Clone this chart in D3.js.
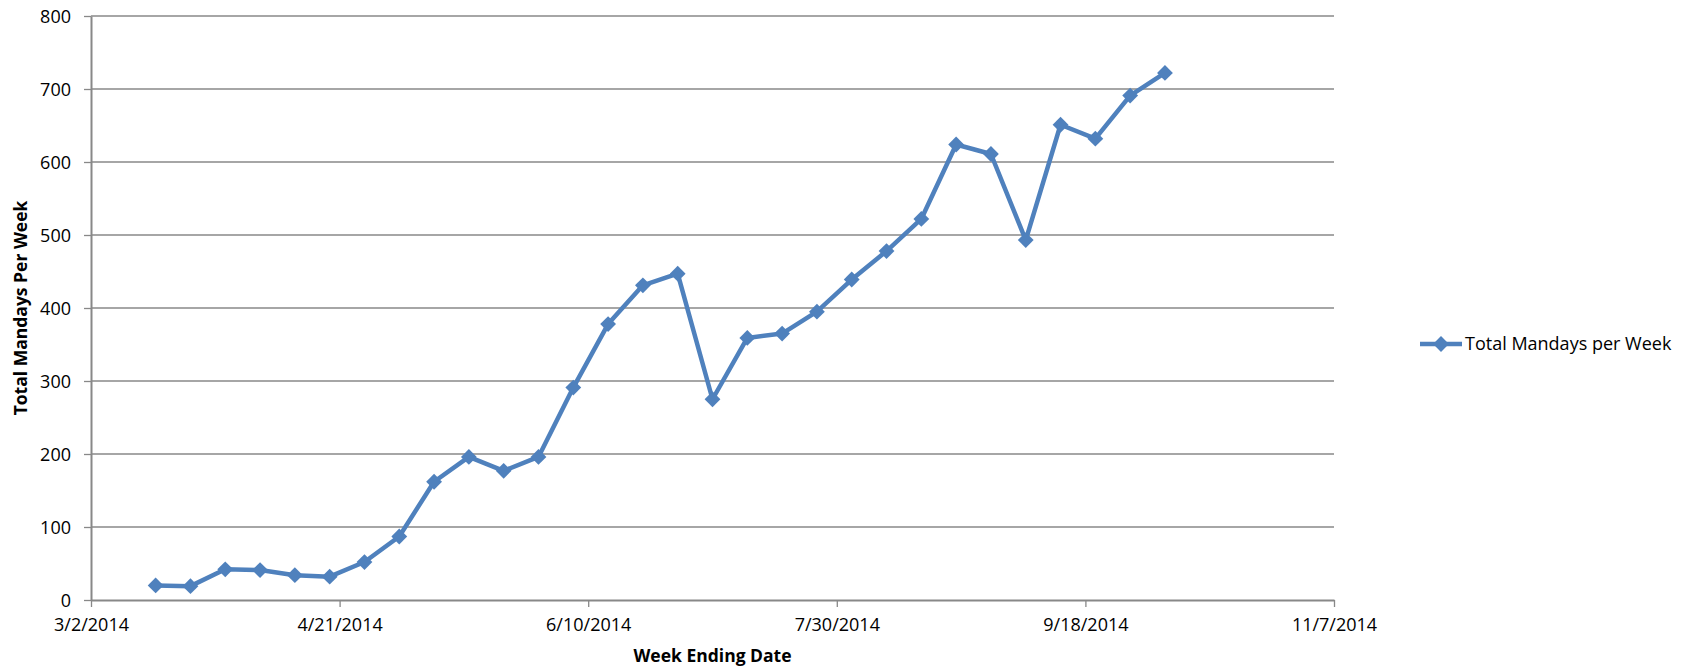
<!DOCTYPE html>
<html>
<head>
<meta charset="utf-8">
<script src="https://cdn.jsdelivr.net/npm/d3@7"></script>
<style>
  body { margin: 0; background: #fff; }
  svg { display: block; font-family: "Open Sans", sans-serif; }
</style>
</head>
<body>
<div class="content"></div>
<script>
(function() {

  // Data
  var firstWeek = "2014-03-15";
  var mandays = [20, 19, 42, 41, 34, 32, 52, 87, 162, 196, 177, 196, 291, 378, 431, 447,
                 275, 359, 365, 395, 439, 478, 522, 624, 611, 493, 651, 632, 691, 722];
  var xTickDates = ["2014-03-02", "2014-04-21", "2014-06-10", "2014-07-30", "2014-09-18", "2014-11-07"];
  var yTicks = [0, 100, 200, 300, 400, 500, 600, 700, 800];
  var seriesName = "Total Mandays per Week";

  // Design Variables
  var width = 1690;
  var height = 670;
  var margin = {top: 16, right: 356, bottom: 70, left: 91};
  var blue = "#4f81bd";
  var grey = "#888888";

  var parse = d3.timeParse("%Y-%m-%d");
  var start = parse(firstWeek);
  var data = mandays.map(function(v, i) {
    return {date: d3.timeDay.offset(start, i * 7), value: v};
  });
  var tickDates = xTickDates.map(parse);

  // Scales
  var x = d3.scaleTime()
    .domain([tickDates[0], tickDates[tickDates.length - 1]])
    .range([margin.left, width - margin.right]);

  var y = d3.scaleLinear()
    .domain([0, 800])
    .range([height - margin.bottom, margin.top]);

  var svg = d3.select(".content").append("svg")
      .attr("width", width)
      .attr("height", height);

  // Gridlines
  svg.append("g")
    .selectAll("line")
    .data(yTicks.slice(1))
    .enter()
    .append("line")
    .attr("x1", margin.left)
    .attr("x2", width - margin.right)
    .attr("y1", function(d) { return y(d); })
    .attr("y2", function(d) { return y(d); })
    .attr("stroke", grey)
    .attr("stroke-width", 1.3);

  // Y axis
  var yAxis = svg.append("g")
    .attr("transform", "translate(" + margin.left + ",0)")
    .call(d3.axisLeft(y).tickValues(yTicks).tickSize(7).tickPadding(13).tickSizeOuter(0));

  // X axis
  var fmt = d3.timeFormat("%-m/%-d/%Y");
  var xAxis = svg.append("g")
    .attr("transform", "translate(0," + y(0) + ")")
    .call(d3.axisBottom(x).tickValues(tickDates).tickFormat(fmt).tickSize(7).tickPadding(11).tickSizeOuter(0));

  svg.selectAll(".domain").attr("stroke", grey).attr("stroke-width", 2);
  svg.selectAll(".tick line").attr("stroke", grey).attr("stroke-width", 1.3);
  svg.selectAll(".tick text")
    .attr("fill", "#000")
    .style("font-size", "18px")
    .style("font-family", "Open Sans, sans-serif");
  yAxis.selectAll(".tick text").attr("dy", "0.35em");

  // Line
  var line = d3.line()
    .x(function(d) { return x(d.date); })
    .y(function(d) { return y(d.value); });

  svg.append("path")
    .datum(data)
    .attr("d", line)
    .attr("fill", "none")
    .attr("stroke", blue)
    .attr("stroke-width", 4.5)
    .attr("stroke-linejoin", "round");

  var diamond = d3.symbol().type(d3.symbolSquare).size(125);

  svg.append("g")
    .selectAll("path")
    .data(data)
    .enter()
    .append("path")
    .attr("d", diamond)
    .attr("fill", blue)
    .attr("transform", function(d) {
      return "translate(" + x(d.date) + "," + y(d.value) + ") rotate(45)";
    });

  // Axis titles
  svg.append("text")
    .attr("x", (margin.left + width - margin.right) / 2)
    .attr("y", 662)
    .attr("text-anchor", "middle")
    .style("font-size", "17.5px")
    .style("font-weight", "bold")
    .text("Week Ending Date");

  svg.append("text")
    .attr("transform", "translate(27," + (margin.top + (height - margin.bottom)) / 2 + ") rotate(-90)")
    .attr("text-anchor", "middle")
    .style("font-size", "17.5px")
    .style("font-weight", "bold")
    .text("Total Mandays Per Week");

  // Legend
  var legend = svg.append("g")
    .attr("transform", "translate(1420,344)");

  legend.append("line")
    .attr("x1", 0)
    .attr("x2", 42)
    .attr("stroke", blue)
    .attr("stroke-width", 4.5);

  legend.append("path")
    .attr("d", diamond)
    .attr("fill", blue)
    .attr("transform", "translate(21,0) rotate(45)");

  legend.append("text")
    .attr("x", 45)
    .attr("dy", "0.35em")
    .style("font-size", "18px")
    .text(seriesName);

})()
</script>
</body>
</html>
